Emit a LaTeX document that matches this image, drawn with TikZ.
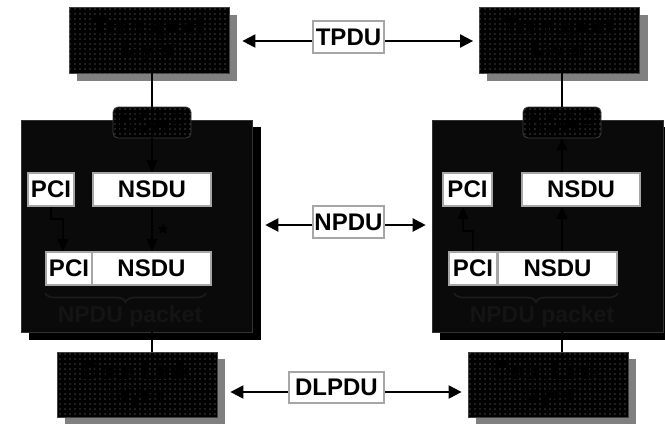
\documentclass[tikz,border=0pt]{standalone}
\usepackage{fontspec}
\setmainfont{Liberation Sans}
\usetikzlibrary{arrows.meta,patterns.meta,decorations.pathreplacing,calc,backgrounds}

\begin{document}
\begin{tikzpicture}[x=1pt,y=-1pt,
  bigfont/.style={font=\fontsize{24}{23}\selectfont\bfseries},
  dotbox/.style={bigfont, draw=black!75, line width=0.8pt, fill=black,
    postaction={pattern={Dots[distance=5pt,radius=0.6pt]}, pattern color=black!45},
    align=center, text=black, inner sep=0pt},
  layerbox/.style={dotbox, minimum width=160pt, minimum height=66pt},
  sapbox/.style={dotbox, rounded corners=5pt, minimum width=78pt, minimum height=31pt},
  netbox/.style={fill=black!96, draw=black!80, line width=0.6pt,
    minimum width=231pt, minimum height=212pt, inner sep=0pt},
  grayshadow/.style={fill=black!50},
  blackshadow/.style={fill=black},
  wbox/.style={bigfont, fill=white, draw=black!35, line width=2pt, inner sep=0pt, minimum height=33pt},
  pdubox/.style={bigfont, fill=white, draw=black!35, line width=2pt, inner sep=0pt, minimum height=32pt},
  conn/.style={draw=black, line width=2pt},
  outarr/.style={draw=black, line width=2.2pt, -{Triangle[length=13pt,width=13pt]}},
  inarr/.style={draw=black, line width=1.4pt, -{Triangle[length=12pt,width=11pt]}},
  bracestyle/.style={draw=black!89, line width=1.6pt, decorate,
    decoration={brace, mirror, amplitude=9pt}},
  pkttext/.style={font=\fontsize{23}{23}\selectfont\bfseries, text=black!92, inner sep=0pt},
  startext/.style={font=\fontsize{24}{24}\selectfont\bfseries, text=black, inner sep=0pt, anchor=base}
]
\useasboundingbox (0,0) rectangle (665,424);
\clip (0,0) rectangle (665,424);

% network layer boxes
\node[netbox] (netl) at (136.5,226) {};
\node[netbox] (netr) at (547.5,226) {};

% transport layer
\node[layerbox] (tl) at (149,40) {Transport\\layer};
\node[layerbox] (tr) at (559.5,40) {Transport\\layer};

% data link layer
\node[layerbox, minimum height=65pt] (dll) at (137,384.5) {Data Link\\layer};
\node[layerbox, minimum height=65pt] (dlr) at (548,384.5) {Data Link\\layer};

% shadows
\begin{scope}[on background layer]
  \fill[blackshadow] ($(netl.north west)+(8,7)$) rectangle ($(netl.south east)+(9,8)$);
  \fill[blackshadow] ($(netr.north west)+(8,7)$) rectangle ($(netr.south east)+(9,8)$);
  \fill[grayshadow] ($(tl.north west)+(8,8)$) rectangle ($(tl.south east)+(8,8)$);
  \fill[grayshadow] ($(tr.north west)+(8,8)$) rectangle ($(tr.south east)+(8,8)$);
  \fill[grayshadow] ($(dll.north west)+(8,7)$) rectangle ($(dll.south east)+(8,7)$);
  \fill[grayshadow] ($(dlr.north west)+(8,7)$) rectangle ($(dlr.south east)+(8,7)$);
\end{scope}

% NSAP
\node[sapbox] (nsapl) at (152,122.5) {NSAP};
\node[sapbox] (nsapr) at (562,122.5) {NSAP};

% white boxes left
\node[wbox, minimum width=46pt] (pci1l) at (51,189.5) {PCI};
\node[wbox, minimum width=118pt] (nsdu1l) at (152,189.5) {NSDU};
\node[wbox, minimum width=46pt] (pci2l) at (69,268.5) {PCI};
\node[wbox, minimum width=119pt] (nsdu2l) at (151.5,268.5) {NSDU};

% white boxes right
\node[wbox, minimum width=49pt] (pci1r) at (467.5,189.5) {PCI};
\node[wbox, minimum width=118pt] (nsdu1r) at (581,189.5) {NSDU};
\node[wbox, minimum width=48pt] (pci2r) at (473,268.5) {PCI};
\node[wbox, minimum width=119pt] (nsdu2r) at (557.5,268.5) {NSDU};

% lines between layers
\draw[conn] (nsapl.north |- tl.south) -- (nsapl.north);
\draw[conn] (nsapr.north |- tr.south) -- (nsapr.north);
\draw[conn] (nsapl.north |- netl.south) -- (nsapl.north |- dll.north);
\draw[conn] (nsapr.north |- netr.south) -- (nsapr.north |- dlr.north);

% arrows inside left network box
\draw[inarr] (nsapl.south) -- (nsapl.south |- nsdu1l.north);
\draw[inarr] (nsdu1l.south -| nsapl.south) -- (nsdu2l.north -| nsapl.south);
\draw[inarr] (pci1l.south) -- ++(0,12) -| ($(pci2l.north)+(-6,0)$);
\node[startext] (starl) at (163,241) {*};

% arrows inside right network box
\draw[inarr] (nsdu2r.north -| nsapr.south) -- (nsdu1r.south -| nsapr.south);
\draw[inarr] (nsdu1r.north -| nsapr.south) -- (nsapr.south);
\draw[inarr] (pci2r.north) -- ++(0,-20) -| ($(pci1r.south)+(-4.5,0)$);

% braces and packet labels
\draw[bracestyle] ($(pci2l.south west)+(0,7)$) -- ($(nsdu2l.south east)+(-6,7)$);
\draw[bracestyle] ($(pci2r.south west)+(6,7)$) -- ($(nsdu2r.south east)+(0,7)$);
\node[pkttext] (pktl) at (130,317) {NPDU packet};
\node[pkttext] (pktr) at (542,317) {NPDU packet};

% PDU labels
\node[pdubox, minimum width=71pt] (tpdu) at (348.5,37) {TPDU};
\node[pdubox, minimum width=71pt] (npdu) at (348.5,222) {NPDU};
\node[pdubox, minimum width=95pt, minimum height=31pt] (dlpdu) at (336.5,387.5) {DLPDU};

\draw[outarr] ($(tpdu.west)+(0,4)$) -- ($(tl.east)+(13,1)$);
\draw[outarr] ($(tpdu.east)+(0,4)$) -- ($(tr.west)+(-6,1)$);
\draw[outarr] ($(npdu.west)+(0,3)$) -- ($(netl.east)+(13,-1)$);
\draw[outarr] ($(npdu.east)+(0,3)$) -- ($(netr.west)+(-6,-1)$);
\draw[outarr] ($(dlpdu.west)+(0,4.5)$) -- ($(dll.east)+(13,7.5)$);
\draw[outarr] ($(dlpdu.east)+(0,4.5)$) -- ($(dlr.west)+(-6,7.5)$);
\end{tikzpicture}
\end{document}
